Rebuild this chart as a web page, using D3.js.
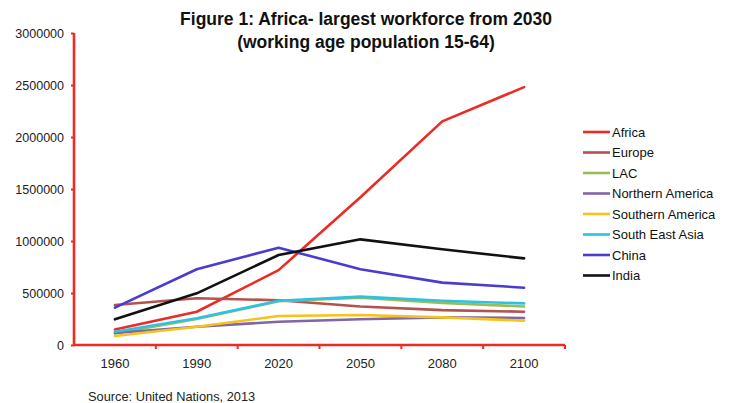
<!DOCTYPE html>
<html>
<head>
<meta charset="utf-8">
<script src="https://cdn.jsdelivr.net/npm/d3@7"></script>
<style>
  html, body { margin: 0; padding: 0; background: #fff; }
  svg { display: block; font-family: "Liberation Sans", Arial, Helvetica, sans-serif; }
</style>
</head>
<body>
<svg id="chart" width="729" height="403"></svg>
<script>
// Working age population (15-64), thousands
const years = ["1960", "1990", "2020", "2050", "2080", "2100"];
const seriesNames = ["Africa", "Europe", "LAC", "Northern America", "Southern America", "South East Asia", "China", "India"];
const seriesColors = ["#ee2a24", "#b4524e", "#9bbb59", "#7f66a8", "#f6c21c", "#2cc3e2", "#4b3ccf", "#111111"];
const africa = [150000, 320000, 720000, 1420000, 2150000, 2480000];
const europe = [385000, 450000, 430000, 370000, 335000, 320000];
const lac = [110000, 250000, 420000, 455000, 405000, 370000];
const northernAmerica = [115000, 176000, 224000, 247000, 266000, 260000];
const southernAmerica = [86000, 176000, 279000, 288000, 266000, 234000];
const southEastAsia = [128000, 257000, 426000, 465000, 426000, 400000];
const china = [359000, 728000, 936000, 728000, 600000, 551000];
const india = [247000, 497000, 865000, 1016000, 920000, 833000];
const yTicks = [0, 500000, 1000000, 1500000, 2000000, 2500000, 3000000];

const seriesValues = [africa, europe, lac, northernAmerica, southernAmerica, southEastAsia, china, india];
const series = seriesNames.map((name, i) => ({ name, color: seriesColors[i], values: seriesValues[i] }));

const svg = d3.select("#chart");
const plotLeft = 74, plotRight = 565, plotTop = 33, plotBottom = 345;

const x = d3.scaleBand().domain(years).range([plotLeft, plotRight]).padding(0);
const y = d3.scaleLinear().domain([0, 3000000]).range([plotBottom, plotTop]);

// Title
const title = svg.append("text")
  .attr("x", 366).attr("text-anchor", "middle")
  .attr("font-weight", "bold").attr("font-size", 17.5).attr("fill", "#111");
title.append("tspan").attr("x", 366).attr("y", 25).text("Figure 1: Africa- largest workforce from 2030");
title.append("tspan").attr("x", 366).attr("y", 48).text("(working age population 15-64)");

// Series lines
const line = d3.line()
  .x((d, i) => x(years[i]) + x.bandwidth() / 2)
  .y(d => y(d));

svg.append("g").selectAll("path")
  .data(series)
  .join("path")
  .attr("d", d => line(d.values))
  .attr("fill", "none")
  .attr("stroke", d => d.color)
  .attr("stroke-width", 2.6)
  .attr("stroke-linejoin", "round")
  .attr("stroke-linecap", "round");

// Y axis
const yAxis = svg.append("g")
  .attr("transform", `translate(${plotLeft},0)`)
  .call(d3.axisLeft(y).tickValues(yTicks).tickFormat(d3.format("d")).tickSize(3).tickPadding(7));
yAxis.select(".domain").remove();
yAxis.append("line").attr("x1", 0).attr("x2", 0).attr("y1", plotTop).attr("y2", plotBottom)
  .attr("stroke", "#ee2a24").attr("stroke-width", 2.6);

// X axis
const xAxis = svg.append("g")
  .attr("transform", `translate(0,${plotBottom})`)
  .call(d3.axisBottom(x).tickSize(0).tickPadding(14));
xAxis.select(".domain").remove();
xAxis.append("line").attr("x1", plotLeft).attr("x2", plotRight).attr("y1", 0).attr("y2", 0)
  .attr("stroke", "#ee2a24").attr("stroke-width", 2.6);
xAxis.selectAll(".bound")
  .data(years)
  .join("line")
  .attr("class", "bound")
  .attr("x1", d => x(d) + x.bandwidth()).attr("x2", d => x(d) + x.bandwidth())
  .attr("y1", 0).attr("y2", 4)
  .attr("stroke", "#ee2a24").attr("stroke-width", 2);

yAxis.selectAll(".tick text").attr("font-size", 12.5);
xAxis.selectAll(".tick text").attr("font-size", 13);
[yAxis, xAxis].forEach(g => {
  g.selectAll(".tick line").attr("stroke", "#ee2a24").attr("stroke-width", 2);
  g.selectAll(".tick text").attr("fill", "#222")
    .attr("font-family", "\"Liberation Sans\", Arial, sans-serif");
});

// Legend
const legend = svg.append("g").attr("transform", "translate(583,132)");
const rows = legend.selectAll("g")
  .data(series)
  .join("g")
  .attr("transform", (d, i) => `translate(0,${i * 20.5})`);
rows.append("line").attr("x1", 0).attr("x2", 27).attr("y1", 0).attr("y2", 0)
  .attr("stroke", d => d.color).attr("stroke-width", 2.6);
rows.append("text").attr("x", 29).attr("y", 4.5)
  .attr("font-size", 13).attr("fill", "#111").text(d => d.name);

// Source note
svg.append("text").attr("x", 88).attr("y", 401)
  .attr("font-size", 12.8).attr("fill", "#222").text("Source: United Nations, 2013");
</script>
</body>
</html>
